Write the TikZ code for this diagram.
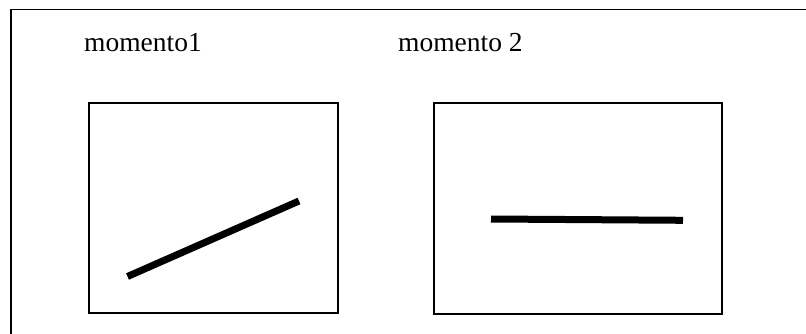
\documentclass[tikz,border=0pt]{standalone}
\usepackage{fontspec}
\setmainfont{Liberation Serif}
\begin{document}
\begin{tikzpicture}[x=1pt,y=-1pt,
  frame/.style={line width=1.8pt,draw=black},
  panel/.style={line width=2pt,draw=black},
  stroke/.style={line width=7pt,line cap=butt},
  label/.style={anchor=base west,inner sep=0pt,font=\fontsize{27.5}{32}\selectfont}]
\useasboundingbox (0,0) rectangle (806,334);
\begin{scope}
\clip (0,0) rectangle (806,334);
\draw[frame] (11,9.5) rectangle (830,360);
\end{scope}
\node[label] (t1) at (84,52) {momento1};
\node[label] (t2) at (398,52) {momento 2};
\draw[panel] (88.5,103) rectangle (337.5,313);
\draw[panel] (434,103) rectangle (722,313.5);
\coordinate (a1) at (127.5,276.5);
\coordinate (a2) at (299,201);
\coordinate (b1) at (491,219);
\coordinate (b2) at (683,220.3);
\draw[stroke] (a1) -- (a2);
\draw[stroke] (b1) -- (b2);
\end{tikzpicture}
\end{document}
